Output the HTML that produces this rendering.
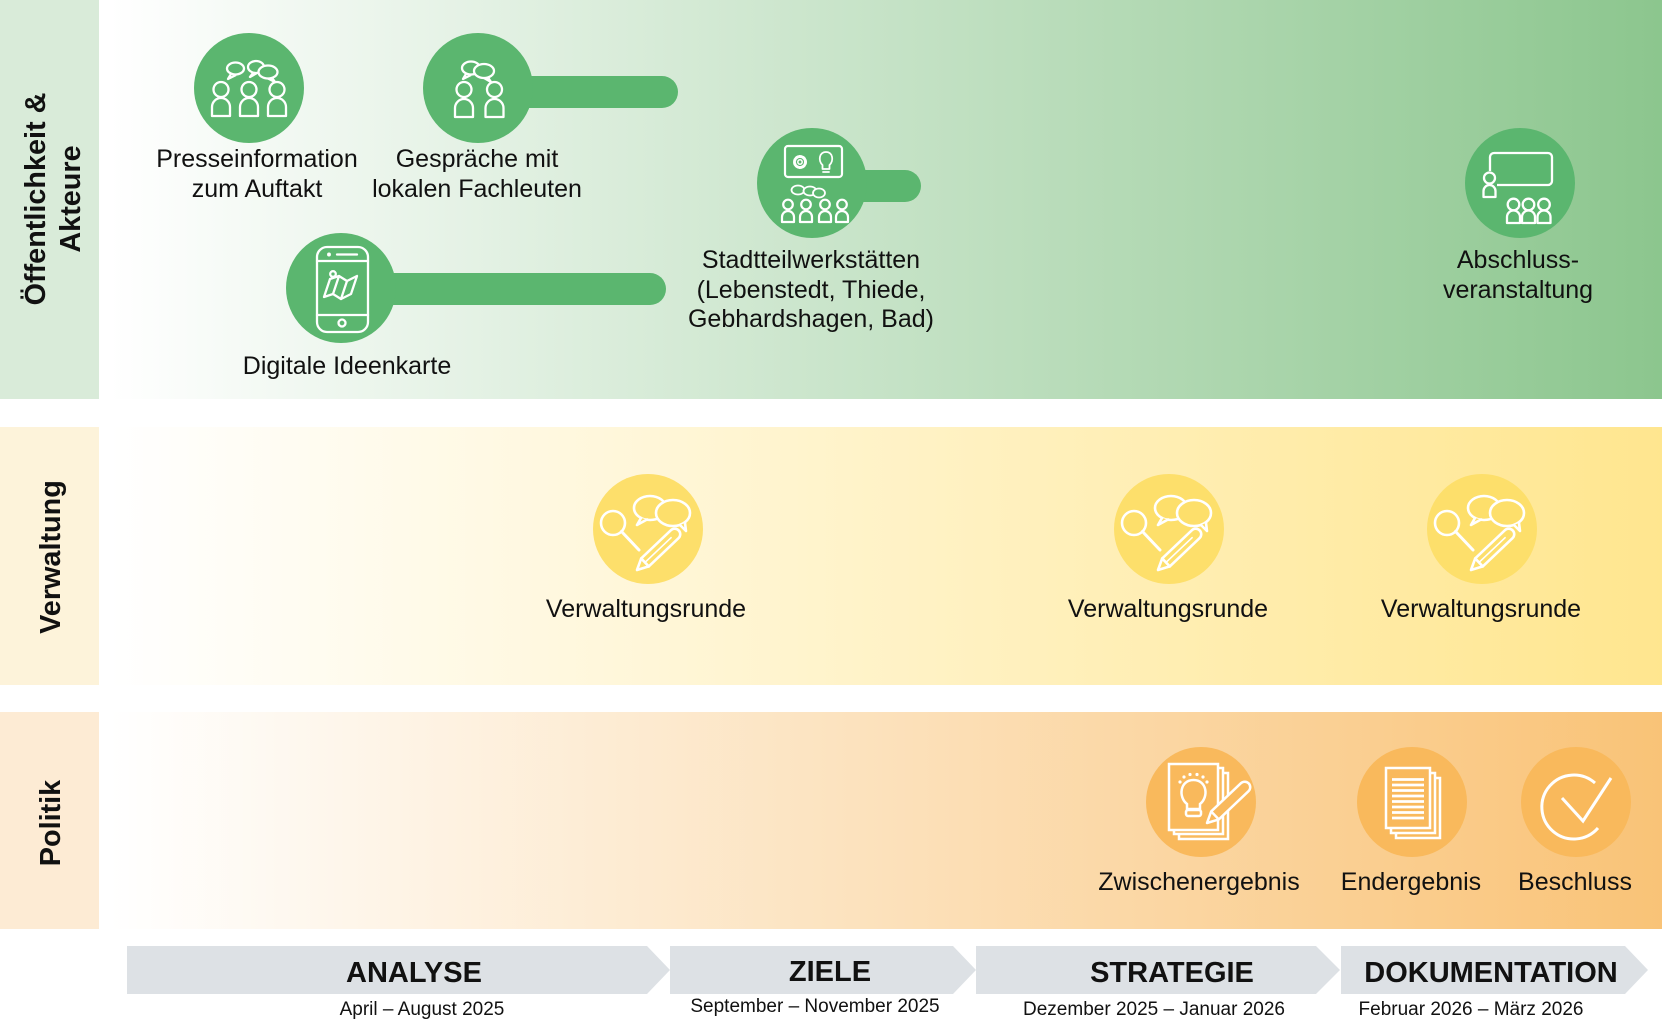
<!DOCTYPE html>
<html><head><meta charset="utf-8">
<style>
html,body{margin:0;padding:0;background:#fff;}
body{width:1662px;height:1033px;overflow:hidden;}
svg{display:block;}
text{font-family:"Liberation Sans",Arial,sans-serif;fill:#111;}
</style></head><body>
<svg width="1662" height="1033" viewBox="0 0 1662 1033" xmlns="http://www.w3.org/2000/svg">
<defs>
<linearGradient id="gG" gradientUnits="userSpaceOnUse" x1="110" y1="0" x2="1662" y2="0">
<stop offset="0" stop-color="#ffffff"/><stop offset="1" stop-color="#8cc68e"/>
</linearGradient>
<linearGradient id="gY" gradientUnits="userSpaceOnUse" x1="110" y1="0" x2="1662" y2="0">
<stop offset="0" stop-color="#ffffff"/><stop offset="1" stop-color="#ffe68f"/>
</linearGradient>
<linearGradient id="gO" gradientUnits="userSpaceOnUse" x1="110" y1="0" x2="1662" y2="0">
<stop offset="0" stop-color="#ffffff"/><stop offset="1" stop-color="#f9c377"/>
</linearGradient>
</defs>

<!-- Bands -->
<rect x="0" y="0" width="99" height="399" fill="#d9ebd9"/>
<rect x="99" y="0" width="1563" height="399" fill="url(#gG)"/>
<rect x="0" y="427" width="99" height="258" fill="#fdf3da"/>
<rect x="99" y="427" width="1563" height="258" fill="url(#gY)"/>
<rect x="0" y="712" width="99" height="217" fill="#fdebd4"/>
<rect x="99" y="712" width="1563" height="217" fill="url(#gO)"/>

<!-- Row labels -->
<text transform="translate(45,199) rotate(-90)" text-anchor="middle" font-weight="bold" font-size="28.8">Öffentlichkeit &amp;</text>
<text transform="translate(80,199) rotate(-90)" text-anchor="middle" font-weight="bold" font-size="28.8">Akteure</text>
<text transform="translate(60,557) rotate(-90)" text-anchor="middle" font-weight="bold" font-size="28.8">Verwaltung</text>
<text transform="translate(60,823) rotate(-90)" text-anchor="middle" font-weight="bold" font-size="28.8">Politik</text>

<!-- Green bars -->
<path d="M478,76 H662 A16,16 0 0 1 662,108 H478 Z" fill="#5bb66f"/>
<path d="M341,273 H650 A16,16 0 0 1 650,305 H341 Z" fill="#5bb66f"/>
<path d="M812,170 H905 A16,16 0 0 1 905,202 H812 Z" fill="#5bb66f"/>

<!-- Presseinformation icon -->
<circle cx="249" cy="88" r="55" fill="#5bb66f"/>
<g fill="none" stroke="#fff" stroke-width="2.3" stroke-linejoin="round">
<circle cx="221" cy="89.5" r="7.5"/><circle cx="249" cy="89.5" r="7.5"/><circle cx="277" cy="89.5" r="7.5"/>
<path d="M212,116 V107 A9,9 0 0 1 230,107 V116 Z"/>
<path d="M240,116 V107 A9,9 0 0 1 258,107 V116 Z"/>
<path d="M268,116 V107 A9,9 0 0 1 286,107 V116 Z"/>
<ellipse cx="235.5" cy="68.5" rx="8.5" ry="6"/>
<path d="M231,74 L228,79 L236,75"/>
<ellipse cx="256" cy="67" rx="8" ry="6" fill="#5bb66f"/>
<path d="M253,73 L250,77 L257,73"/>
<ellipse cx="268" cy="72" rx="9.5" ry="6.5" fill="#5bb66f"/>
<path d="M272,78 L275,82 L268,78.5"/>
</g>

<!-- Gespräche icon -->
<circle cx="478" cy="88" r="55" fill="#5bb66f"/>
<g fill="none" stroke="#fff" stroke-width="2.3" stroke-linejoin="round">
<circle cx="464" cy="89.5" r="7.5"/><circle cx="494.5" cy="89.5" r="7.5"/>
<path d="M455,117 V108 A9,9 0 0 1 473,108 V117 Z"/>
<path d="M485.5,117 V108 A9,9 0 0 1 503.5,108 V117 Z"/>
<ellipse cx="471" cy="68" rx="9" ry="6.5"/>
<path d="M466,74 L463,79 L471,75"/>
<ellipse cx="484" cy="71" rx="10" ry="7" fill="#5bb66f"/>
<path d="M488,77.5 L491,82 L484,78"/>
</g>

<!-- Digitale Ideenkarte icon -->
<circle cx="341" cy="288" r="55" fill="#5bb66f"/>
<g fill="none" stroke="#fff" stroke-width="2.3" stroke-linejoin="round" stroke-linecap="round">
<rect x="317" y="247" width="51" height="85" rx="10"/>
<line x1="317" y1="261" x2="368" y2="261"/>
<line x1="317" y1="315" x2="368" y2="315"/>
<circle cx="329" cy="254.5" r="0.8" fill="#fff"/>
<line x1="337" y1="254.5" x2="357" y2="254.5"/>
<circle cx="342" cy="323" r="3.5"/>
<path d="M330,279 L339,276 L347,281 L357,276 L351,294 L341,299 L333,294 L324,297 Z"/>
<line x1="339" y1="276" x2="333" y2="294"/>
<line x1="347" y1="281" x2="341" y2="299"/>
<circle cx="333" cy="274" r="2.8" fill="#5bb66f"/>
</g>

<!-- Stadtteilwerkstätten icon -->
<circle cx="812" cy="183" r="55" fill="#5bb66f"/>
<g fill="none" stroke="#fff" stroke-width="2.2" stroke-linejoin="round" stroke-linecap="round">
<rect x="785" y="146" width="57" height="31" rx="3"/>
<circle cx="800" cy="162" r="5.5" stroke-width="3" stroke-dasharray="2 1.6"/>
<circle cx="800" cy="162" r="2.2" stroke-width="1.5"/>
<path d="M822.5,165 C818,161 819,152 826,152 C833,152 834,161 829.5,165 V169 H822.5 Z" stroke-width="1.8"/>
<line x1="823" y1="172" x2="829" y2="172" stroke-width="1.8"/>
<ellipse cx="798" cy="190" rx="6.5" ry="4.5" stroke-width="1.8"/>
<ellipse cx="810" cy="191" rx="6.5" ry="4.5" fill="#5bb66f" stroke-width="1.8"/>
<ellipse cx="819" cy="193" rx="6" ry="4.5" fill="#5bb66f" stroke-width="1.8"/>
<circle cx="788" cy="204.5" r="4.8"/><circle cx="806" cy="204.5" r="4.8"/><circle cx="825" cy="204.5" r="4.8"/><circle cx="842" cy="204.5" r="4.8"/>
<path d="M782,222 V217 A6,6 0 0 1 794,217 V222 Z"/>
<path d="M800,222 V217 A6,6 0 0 1 812,217 V222 Z"/>
<path d="M819,222 V217 A6,6 0 0 1 831,217 V222 Z"/>
<path d="M836,222 V217 A6,6 0 0 1 848,217 V222 Z"/>
</g>

<!-- Abschluss icon -->
<circle cx="1520" cy="183" r="55" fill="#5bb66f"/>
<g fill="none" stroke="#fff" stroke-width="2.3" stroke-linejoin="round">
<path d="M1490,171 V157 A4,4 0 0 1 1494,153 H1548 A4,4 0 0 1 1552,157 V181 A4,4 0 0 1 1548,185 H1497"/>
<circle cx="1489.5" cy="178" r="5.5"/>
<path d="M1483.5,197 V191 A6,6 0 0 1 1495.5,191 V197 Z"/>
<circle cx="1513.5" cy="204.5" r="5.8"/><circle cx="1528.5" cy="204.5" r="5.8"/><circle cx="1544" cy="204.5" r="5.8"/>
<path d="M1507,223 V217 A6.5,6.5 0 0 1 1520,217 V223 Z"/>
<path d="M1522,223 V217 A6.5,6.5 0 0 1 1535,217 V223 Z"/>
<path d="M1537.5,223 V217 A6.5,6.5 0 0 1 1550.5,217 V223 Z"/>
</g>

<!-- Verwaltung icons -->
<g transform="translate(648,529)">
<circle r="55" fill="#fddf6b"/>
<g fill="none" stroke="#fff" stroke-width="2.6" stroke-linejoin="round" stroke-linecap="round">
<circle cx="-35" cy="-6" r="12"/>
<line x1="-26.5" y1="2.5" x2="-9" y2="21" stroke-width="3"/>
<ellipse cx="2" cy="-21" rx="16" ry="12"/>
<path d="M-7,-11 L-11,-4 L-1,-9.5" fill="#fddf6b"/>
<ellipse cx="25" cy="-16" rx="17" ry="13" fill="#fddf6b"/>
<path d="M32,-4 L38,2 L37,-6" fill="#fddf6b"/>
<g transform="translate(-11,41) rotate(-43.5)">
<path d="M0,0 L11,-5.5 H52 A5.5,5.5 0 0 1 52,5.5 H11 Z" fill="#fddf6b"/>
<line x1="11" y1="-5.5" x2="11" y2="5.5"/>
<line x1="11" y1="0" x2="47" y2="0" stroke-width="1.6"/>
</g>
</g>
</g>
<g transform="translate(1169,529)">
<circle r="55" fill="#fddf6b"/>
<g fill="none" stroke="#fff" stroke-width="2.6" stroke-linejoin="round" stroke-linecap="round">
<circle cx="-35" cy="-6" r="12"/>
<line x1="-26.5" y1="2.5" x2="-9" y2="21" stroke-width="3"/>
<ellipse cx="2" cy="-21" rx="16" ry="12"/>
<path d="M-7,-11 L-11,-4 L-1,-9.5" fill="#fddf6b"/>
<ellipse cx="25" cy="-16" rx="17" ry="13" fill="#fddf6b"/>
<path d="M32,-4 L38,2 L37,-6" fill="#fddf6b"/>
<g transform="translate(-11,41) rotate(-43.5)">
<path d="M0,0 L11,-5.5 H52 A5.5,5.5 0 0 1 52,5.5 H11 Z" fill="#fddf6b"/>
<line x1="11" y1="-5.5" x2="11" y2="5.5"/>
<line x1="11" y1="0" x2="47" y2="0" stroke-width="1.6"/>
</g>
</g>
</g>
<g transform="translate(1482,529)">
<circle r="55" fill="#fddf6b"/>
<g fill="none" stroke="#fff" stroke-width="2.6" stroke-linejoin="round" stroke-linecap="round">
<circle cx="-35" cy="-6" r="12"/>
<line x1="-26.5" y1="2.5" x2="-9" y2="21" stroke-width="3"/>
<ellipse cx="2" cy="-21" rx="16" ry="12"/>
<path d="M-7,-11 L-11,-4 L-1,-9.5" fill="#fddf6b"/>
<ellipse cx="25" cy="-16" rx="17" ry="13" fill="#fddf6b"/>
<path d="M32,-4 L38,2 L37,-6" fill="#fddf6b"/>
<g transform="translate(-11,41) rotate(-43.5)">
<path d="M0,0 L11,-5.5 H52 A5.5,5.5 0 0 1 52,5.5 H11 Z" fill="#fddf6b"/>
<line x1="11" y1="-5.5" x2="11" y2="5.5"/>
<line x1="11" y1="0" x2="47" y2="0" stroke-width="1.6"/>
</g>
</g>
</g>

<!-- Zwischenergebnis icon -->
<circle cx="1201" cy="802" r="55" fill="#f9b95c"/>
<g fill="#f9b95c" stroke="#fff" stroke-width="2.5" stroke-linejoin="miter">
<rect x="1179" y="773" width="49" height="66"/>
<rect x="1174" y="768" width="49" height="66"/>
<rect x="1169" y="764" width="49" height="66"/>
<path d="M1187,804 C1178,797 1180,780 1193.5,780 C1207,780 1209,797 1200,804 V809 H1187 Z" fill="none"/>
<rect x="1186" y="810" width="15" height="6" rx="2" fill="none"/>
</g>
<g fill="#fff">
<circle cx="1180" cy="782" r="1.6"/><circle cx="1184" cy="777" r="1.6"/><circle cx="1190" cy="774.5" r="1.6"/>
<circle cx="1197" cy="774.5" r="1.6"/><circle cx="1203" cy="777" r="1.6"/><circle cx="1207" cy="782" r="1.6"/>
</g>
<g transform="translate(1207,823) rotate(-43.5)" fill="none" stroke="#fff" stroke-width="2.5" stroke-linejoin="round">
<path d="M0,0 L11,-5.5 H52 A5.5,5.5 0 0 1 52,5.5 H11 Z" fill="#f9b95c"/>
<line x1="11" y1="-5.5" x2="11" y2="5.5"/>
</g>

<!-- Endergebnis icon -->
<circle cx="1412" cy="802" r="55" fill="#f9b95c"/>
<g fill="#f9b95c" stroke="#fff" stroke-width="2.5">
<rect x="1396" y="778" width="44" height="60"/>
<rect x="1391" y="773" width="44" height="60"/>
<rect x="1386" y="768" width="44" height="60"/>
</g>
<g stroke="#fff" stroke-width="2.8">
<line x1="1392" y1="779.5" x2="1424" y2="779.5"/>
<line x1="1392" y1="785" x2="1424" y2="785"/>
<line x1="1392" y1="790.5" x2="1424" y2="790.5"/>
<line x1="1392" y1="796" x2="1424" y2="796"/>
<line x1="1392" y1="801.5" x2="1424" y2="801.5"/>
<line x1="1392" y1="807" x2="1424" y2="807"/>
<line x1="1392" y1="812.5" x2="1424" y2="812.5"/>
<line x1="1392" y1="818" x2="1424" y2="818"/>
</g>

<!-- Beschluss icon -->
<circle cx="1576" cy="802" r="55" fill="#f9b95c"/>
<g fill="none" stroke="#fff" stroke-width="3" stroke-linejoin="miter">
<path d="M1595,783 A32,32 0 1 0 1598,828"/>
<path d="M1562,798 L1583,821 L1611,778"/>
</g>

<!-- Node labels -->
<g font-size="25" text-anchor="middle">
<text x="257" y="167">Presseinformation</text>
<text x="257" y="197">zum Auftakt</text>
<text x="477" y="167">Gespräche mit</text>
<text x="477" y="197">lokalen Fachleuten</text>
<text x="347" y="374">Digitale Ideenkarte</text>
<text x="811" y="268">Stadtteilwerkstätten</text>
<text x="811" y="298">(Lebenstedt, Thiede,</text>
<text x="811" y="327">Gebhardshagen, Bad)</text>
<text x="1518" y="268">Abschluss-</text>
<text x="1518" y="298">veranstaltung</text>
<text x="646" y="617">Verwaltungsrunde</text>
<text x="1168" y="617">Verwaltungsrunde</text>
<text x="1481" y="617">Verwaltungsrunde</text>
<text x="1199" y="890">Zwischenergebnis</text>
<text x="1411" y="890">Endergebnis</text>
<text x="1575" y="890">Beschluss</text>
</g>

<!-- Phase chevrons -->
<g fill="#dde1e5">
<polygon points="127,946 647,946 670,970 647,994 127,994"/>
<polygon points="670,946 953,946 976,970 953,994 670,994"/>
<polygon points="976,946 1316,946 1340,970 1316,994 976,994"/>
<polygon points="1341,946 1625,946 1648,970 1625,994 1341,994"/>
</g>
<g font-size="29" font-weight="bold" text-anchor="middle">
<text x="414" y="982">ANALYSE</text>
<text x="830" y="981">ZIELE</text>
<text x="1172" y="982">STRATEGIE</text>
<text x="1491" y="982">DOKUMENTATION</text>
</g>
<g font-size="19" text-anchor="middle">
<text x="422" y="1015">April – August 2025</text>
<text x="815" y="1012">September – November 2025</text>
<text x="1154" y="1015">Dezember 2025 – Januar 2026</text>
<text x="1471" y="1015">Februar 2026 – März 2026</text>
</g>
</svg>
</body></html>
